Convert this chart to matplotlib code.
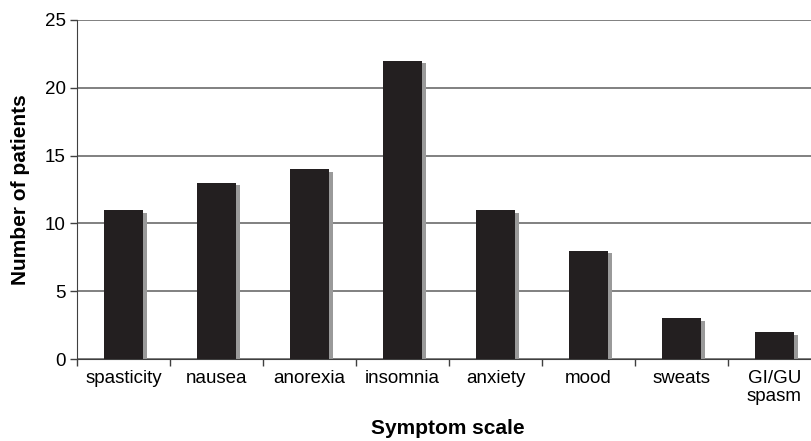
import numpy as np
import matplotlib.pyplot as plt
from matplotlib.ticker import FixedLocator

# data
symptoms = ['spasticity', 'nausea', 'anorexia', 'insomnia', 'anxiety', 'mood', 'sweats', 'GI/GU\nspasm']
patients = [11, 13, 14, 22, 11, 8, 3, 2]

plt.rcParams['font.family'] = ['Liberation Sans', 'DejaVu Sans']

fig = plt.figure(figsize=(8.11, 4.41), dpi=100)
# plot area runs a little past the right edge, as in the original
ax = fig.add_axes([77/811, 1 - 359/441, (821 - 77)/811, (359 - 20)/441])

x = np.arange(len(symptoms))
w = 0.43
# grey drop shadow behind each bar
ax.bar(x + 0.035, np.array(patients) - 0.2, width=w, color='#9a9a9a', zorder=2)
ax.bar(x, patients, width=w, color='#231f20', zorder=3)

ax.set_xlim(-0.5, len(symptoms) - 0.5)
ax.set_ylim(0, 25)
ax.set_yticks([0, 5, 10, 15, 20, 25])
ax.yaxis.grid(True, color='#808080', linewidth=1.4, zorder=0)
ax.set_axisbelow(True)

ax.set_xticks(x)
ax.set_xticklabels(symptoms, fontsize=13.5, linespacing=1.05)
ax.xaxis.set_minor_locator(FixedLocator(np.arange(-0.5, len(symptoms), 1.0)))
ax.tick_params(axis='x', which='major', length=0, pad=8)
ax.tick_params(axis='x', which='minor', length=5, width=1, color='#404040')
ax.tick_params(axis='y', length=5, width=1, color='#404040', labelsize=13.5, pad=3)

for s in ['top', 'right']:
    ax.spines[s].set_visible(False)
ax.spines['left'].set_color('#404040')
ax.spines['bottom'].set_color('#404040')

ax.set_ylabel('Number of patients', fontsize=15, fontweight='bold')
ax.yaxis.set_label_coords(-(77 - 20) / (821 - 77), 0.5)
ax.set_xlabel('Symptom scale', fontsize=15, fontweight='bold')
ax.xaxis.set_label_coords((448 - 77) / (821 - 77), -(428 - 359) / (359 - 20))
ax.xaxis.label.set_va('center')
ax.yaxis.label.set_va('center')

fig.savefig('out.png', dpi=100)
